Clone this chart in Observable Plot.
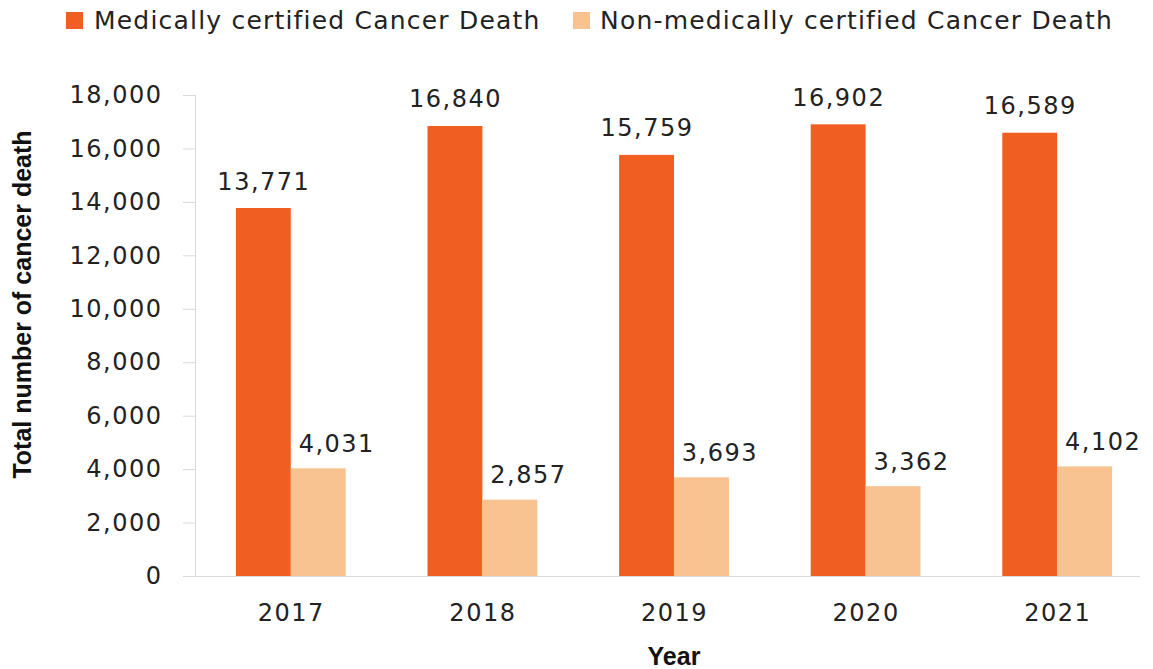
<!DOCTYPE html>
<html><head><meta charset="utf-8">
<script src="https://cdn.jsdelivr.net/npm/d3@7"></script>
<script src="https://cdn.jsdelivr.net/npm/@observablehq/plot@0.6"></script>
<style>
body{margin:0;background:#fff;}
#wrap{position:relative;width:1153px;height:669px;overflow:hidden;font-family:"DejaVu Sans";color:#222;background:#fff;}
.lg{position:absolute;top:8px;height:25px;line-height:25px;font-size:25px;letter-spacing:1.2px;white-space:nowrap;color:#222;}
.sw{position:absolute;top:12px;width:17px;height:17px;}
#chart{position:absolute;left:0;top:45px;}
#chart svg line, #chart svg path{stroke:#d9d9d9;}
.ttl{position:absolute;font-family:"Liberation Sans";font-weight:bold;font-size:25px;line-height:25px;color:#111;white-space:nowrap;text-align:center;}
</style></head>
<body>
<div id="wrap">
  <div id="legend"></div>
  <div id="chart"></div>
  <div class="ttl" id="ytitle" style="left:-178px;top:292px;width:400px;transform:rotate(-90deg);transform-origin:50% 50%;"></div>
  <div class="ttl" id="xtitle" style="left:574px;top:644px;width:200px;"></div>
</div>
<script>
const years = ["2017", "2018", "2019", "2020", "2021"];
const seriesNames = ["Medically certified Cancer Death", "Non-medically certified Cancer Death"];
const medically = [13771, 16840, 15759, 16902, 16589];
const nonMedically = [4031, 2857, 3693, 3362, 4102];
const yTicks = [0, 2000, 4000, 6000, 8000, 10000, 12000, 14000, 16000, 18000];
const colors = ["#F15E22", "#F9C291"];
const yTitle = "Total number of cancer death";
const xTitle = "Year";

const data1 = years.map((year, i) => ({year, series: seriesNames[0], value: medically[i]}));
const data2 = years.map((year, i) => ({year, series: seriesNames[1], value: nonMedically[i]}));

// legend
const legend = document.getElementById("legend");
const legendPos = [[66, 94], [573, 600]];
seriesNames.forEach((name, i) => {
  const sw = document.createElement("div");
  sw.className = "sw"; sw.style.left = legendPos[i][0] + "px"; sw.style.background = colors[i];
  const t = document.createElement("div");
  t.className = "lg"; t.style.left = legendPos[i][1] + "px"; t.textContent = name;
  legend.appendChild(sw); legend.appendChild(t);
});
document.getElementById("ytitle").textContent = yTitle;
document.getElementById("xtitle").textContent = xTitle;

const W = 1153, H = 624, mL = 195, mR = 0, mT = 50, mB = 93;
const padInner = 0.427, padOuter = 0.2135;
const step = (W - mL - mR) / (years.length - padInner + 2 * padOuter);
const bw = step * (1 - padInner);
const fmt = d3.format(",");

const chart = Plot.plot({
  width: W, height: H,
  marginLeft: mL, marginRight: mR, marginTop: mT, marginBottom: mB,
  style: {fontFamily: "DejaVu Sans", fontSize: "24px", letterSpacing: "1.5px", color: "#222", background: "#fff", overflow: "visible"},
  x: {domain: years, paddingInner: padInner, paddingOuter: padOuter, round: false, tickSize: 0, tickPadding: 27, label: null},
  y: {domain: [0, 18000], ticks: yTicks, tickFormat: fmt, tickSize: 12, tickPadding: 21, line: true, label: null},
  marks: [
    Plot.barY(data1, {x: "year", y: "value", fill: colors[0], insetRight: bw / 2}),
    Plot.barY(data2, {x: "year", y: "value", fill: colors[1], insetLeft: bw / 2}),
    Plot.ruleY([0], {insetLeft: -12, insetRight: 13, stroke: "#d9d9d9"}),
    Plot.text(data1, {x: "year", y: "value", text: d => fmt(d.value), dx: -bw / 4, dy: -19, lineAnchor: "bottom", fontSize: 24, fill: "#222"}),
    Plot.text(data2, {x: "year", y: "value", text: d => fmt(d.value), dx: bw / 4 + 18, dy: -17, lineAnchor: "bottom", fontSize: 24, fill: "#222"})
  ]
});
document.getElementById("chart").appendChild(chart);
</script>
</body></html>
